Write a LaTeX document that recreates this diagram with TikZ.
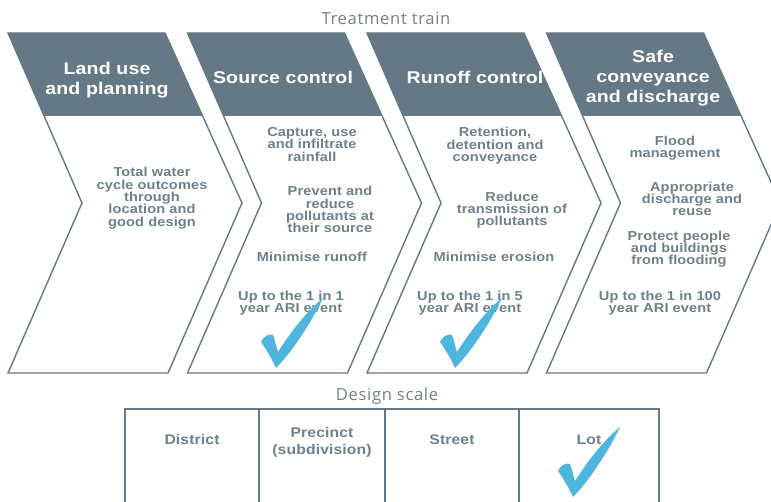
\documentclass[tikz,border=0pt]{standalone}
\usepackage{fontspec}
\setmainfont{Liberation Sans}
\newfontfamily\bodyfont{Liberation Sans}[FakeStretch=1.12,LetterSpace=1]
\newfontfamily\headfont{Liberation Sans}[FakeStretch=1.15,LetterSpace=1]
\newfontfamily\titlefont{Open Sans}[LetterSpace=4]
\definecolor{slate}{HTML}{647985}
\definecolor{inkgrey}{HTML}{6E808A}
\definecolor{tickblue}{HTML}{4EB5DE}
\lineskiplimit=-20pt
\tikzset{
  header/.style={font=\headfont\bfseries\fontsize{17}{20}\selectfont,
    text=white, align=center, anchor=north, inner sep=0pt},
  body/.style={font=\bodyfont\bfseries\fontsize{13}{12.4}\selectfont,
    text=inkgrey, align=center, anchor=north, inner sep=0pt},
  cell/.style={font=\bodyfont\bfseries\fontsize{14}{17}\selectfont,
    text=inkgrey, align=center, anchor=north, inner sep=0pt},
  caption/.style={font=\titlefont\fontsize{16.6}{19}\selectfont,
    text=inkgrey, anchor=north, inner sep=0pt},
  chevronline/.style={draw=slate, line width=1.4pt, line join=miter},
  gridline/.style={draw=slate, line width=1.4pt},
  checkmark/.pic={
    \fill[tickblue] (0,0)
      .. controls (-4,-9) and (-10,-19) .. (-15,-26)
      .. controls (-13,-31) and (-7,-35) .. (-3,-33)
      .. controls (-1,-28) and (0,-22) .. (2,-16)
      .. controls (14,-35) and (30,-56) .. (47,-70)
      .. controls (36,-47) and (17,-17) .. (0,0) -- cycle;
  }
}
\begin{document}
\begin{tikzpicture}[x=1pt,y=-1pt]
\useasboundingbox (0,0) rectangle (771,502);
\clip (0,0) rectangle (771,502);

% the four chevrons of the treatment train
\foreach \L in {8,187.5,367,546.5}{
  \fill[slate] (\L,33) -- (\L+157,33) -- (\L+194.6,116) -- (\L+36.1,116) -- cycle;
  \draw[chevronline] (\L,33) -- (\L+157,33) -- (\L+234,203) -- (\L+160,373)
    -- (\L,373) -- (\L+74,203) -- cycle;
}

\node[caption] (train) at (386,12) {Treatment train};

% headings
\node[header] (h1) at (107,62) {Land use\\and planning};
\node[header] (h2) at (283,71) {Source control};
\node[header] (h3) at (475,71) {Runoff control};
\node[header] (h4) at (653,50) {Safe\\conveyance\\and discharge};

% land use and planning
\node[body] (a1) at (152,167) {Total water\\cycle outcomes\\through\\location and\\good design};

% source control
\node[body] (b1) at (312,127) {Capture, use\\and infiltrate\\rainfall};
\node[body] (b2) at (330,186) {Prevent and\\reduce\\pollutants at\\their source};
\node[body] (b3) at (312,251.5) {Minimise runoff};
\node[body] (b4) at (291,290.5) {Up to the 1 in 1\\year ARI event};

% runoff control
\node[body] (c1) at (495,127) {Retention,\\detention and\\conveyance};
\node[body] (c2) at (512,191.5) {Reduce\\transmission of\\pollutants};
\node[body] (c3) at (494,252) {Minimise erosion};
\node[body] (c4) at (470,290.5) {Up to the 1 in 5\\year ARI event};

% safe conveyance and discharge
\node[body] (d1) at (675,135.5) {Flood\\management};
\node[body] (d2) at (692,181.5) {Appropriate\\discharge and\\reuse};
\node[body] (d3) at (679,230.5) {Protect people\\and buildings\\from flooding};
\node[body] (d4) at (660,290.5) {Up to the 1 in 100\\year ARI event};

% design scale table
\node[caption] (scale) at (387,388) {Design scale};
\draw[gridline] (125,520) -- (125,409) -- (659,409) -- (659,520);
\foreach \x in {259,385,519}{ \draw[gridline] (\x,409) -- (\x,520); }
\node[cell] (e1) at (192,434.5) {District};
\node[cell] (e2) at (322,427.5) {Precinct\\(subdivision)};
\node[cell] (e3) at (452,434.5) {Street};
\node[cell] (e4) at (589,434.5) {Lot};

% ticks
\pic at (276,368) {checkmark};
\pic at (455,368) {checkmark};
\pic at (573,497) {checkmark};
\end{tikzpicture}
\end{document}
